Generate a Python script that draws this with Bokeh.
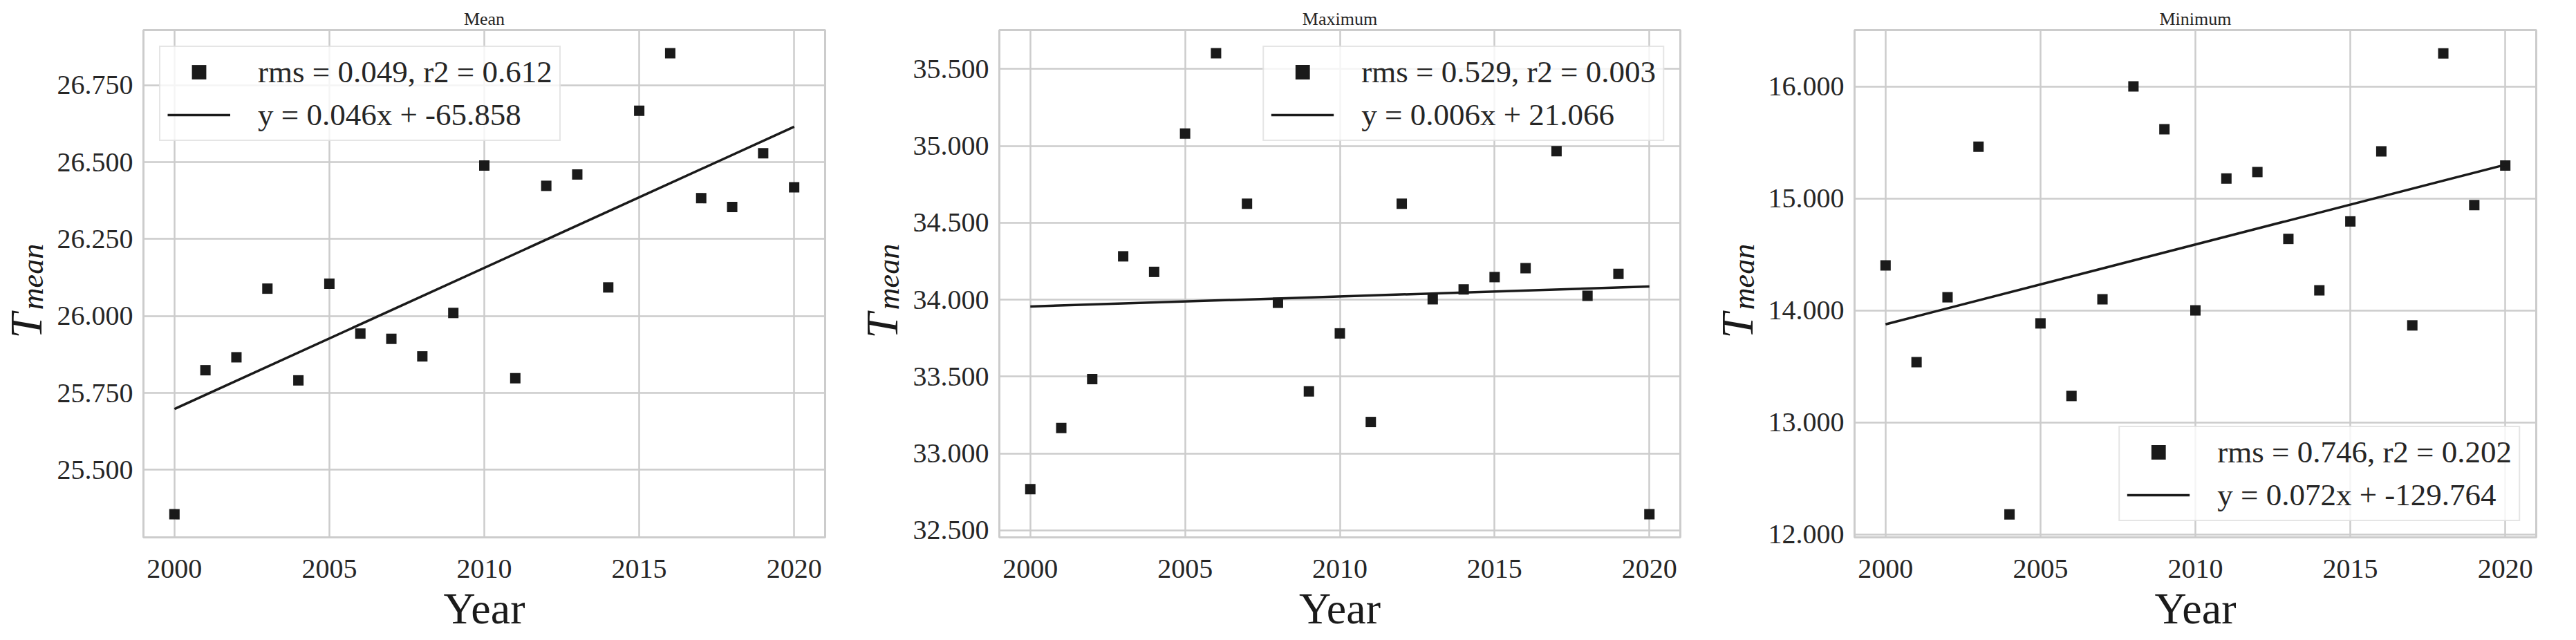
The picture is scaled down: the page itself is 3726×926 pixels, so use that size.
import math
from bokeh.plotting import figure
from bokeh.layouts import row
from bokeh.models import Range1d, PrintfTickFormatter
from bokeh.core.properties import value
from bokeh.embed import file_html
from bokeh.resources import INLINE

years = list(range(2000, 2021))

mean_vals = [25.356, 25.824, 25.866, 26.089, 25.791, 26.105, 25.943, 25.926, 25.869, 26.010,
             26.489, 25.798, 26.423, 26.460, 26.093, 26.667, 26.854, 26.383, 26.354, 26.529, 26.418]
max_vals = [32.768, 33.166, 33.484, 34.282, 34.181, 35.080, 35.602, 34.624, 33.980, 33.404,
            33.781, 33.205, 34.624, 34.003, 34.067, 34.147, 34.205, 34.966, 34.025, 34.168, 32.606]
min_vals = [14.402, 13.539, 14.118, 15.462, 12.180, 13.885, 13.237, 14.100, 16.000, 15.618,
            14.001, 15.178, 15.236, 14.639, 14.180, 14.795, 15.421, 13.867, 16.295, 14.941, 15.294]

fit_x = [2000, 2020]
mean_fit = [25.698, 26.615]
max_fit = [33.956, 34.086]
min_fit = [13.877, 15.301]

titles = ["Mean", "Maximum", "Minimum"]
stat_labels = ["rms = 0.049, r2 = 0.612", "rms = 0.529, r2 = 0.003", "rms = 0.746, r2 = 0.202"]
fit_labels = ["y = 0.046x + -65.858", "y = 0.006x + 21.066", "y = 0.072x + -129.764"]
ylabel_main = "T"
ylabel_sub = "mean"
xlabel = "Year"

x_ticks = [2000, 2005, 2010, 2015, 2020]
mean_ticks = [25.5, 25.75, 26.0, 26.25, 26.5, 26.75]
max_ticks = [32.5, 33.0, 33.5, 34.0, 34.5, 35.0, 35.5]
min_ticks = [12.0, 13.0, 14.0, 15.0, 16.0]

series = [mean_vals, max_vals, min_vals]
fits = [mean_fit, max_fit, min_fit]
yticks = [mean_ticks, max_ticks, min_ticks]
yranges = [(25.281, 26.929), (32.455, 35.753), (11.975, 16.503)]
legend_locs = ["top_left", "top_right", "bottom_right"]
frame_widths = [986, 985, 986]
right_borders = [45, 45, 10]

FONT = "Liberation Serif"
TXT = "#262626"
GRID = "#cccccc"
INK = "#1a1a1a"
FIG_H = 902
LAB_W = 74


def make_label_fig():
    q = figure(output_backend="svg", toolbar_location=None, title=None,
               frame_width=LAB_W, frame_height=FIG_H, min_border=0,
               x_axis_location=None, y_axis_location=None,
               x_range=Range1d(0, LAB_W), y_range=Range1d(0, FIG_H),
               background_fill_color="white", border_fill_color="white")
    q.outline_line_color = None
    q.grid.visible = False
    # positions in this strip's own pixel space (text centres)
    q.text(x=[36.5], y=[474], text=[ylabel_main], angle=math.pi / 2,
           text_font=value(FONT), text_font_style="italic", text_font_size="66px",
           text_color=INK, text_align="center", text_baseline="middle")
    q.text(x=[47], y=[545], text=[ylabel_sub], angle=math.pi / 2,
           text_font=value(FONT), text_font_style="italic", text_font_size="44px",
           text_color=INK, text_align="center", text_baseline="middle")
    return q


def make_panel(i):
    y0, y1 = yranges[i]
    p = figure(output_backend="svg", toolbar_location=None,
               frame_width=frame_widths[i], frame_height=734,
               min_border_left=133, min_border_right=right_borders[i],
               min_border_top=43, min_border_bottom=125,
               x_range=Range1d(1999, 2021), y_range=Range1d(y0, y1),
               background_fill_color="white", border_fill_color="white")
    p.outline_line_color = GRID
    p.outline_line_width = 3

    p.title.text = titles[i]
    p.title.align = "center"
    p.title.text_font = FONT
    p.title.text_font_size = "26px"
    p.title.text_font_style = "normal"
    p.title.text_color = TXT
    p.title.standoff = 4

    p.scatter(years, series[i], marker="square", size=15, fill_color=INK,
              line_color=None, legend_label=stat_labels[i])
    p.line(fit_x, fits[i], line_color=INK, line_width=3.5, legend_label=fit_labels[i])

    p.xaxis.ticker = x_ticks
    p.yaxis.ticker = yticks[i]
    p.yaxis.formatter = PrintfTickFormatter(format="%.3f")
    for ax in (p.xaxis, p.yaxis):
        ax.axis_line_color = None
        ax.major_tick_line_color = None
        ax.minor_tick_line_color = None
        ax.major_tick_out = 0
        ax.major_tick_in = 0
        ax.major_label_text_font = FONT
        ax.major_label_text_font_size = "40px"
        ax.major_label_text_color = TXT
    p.xaxis.major_label_standoff = 32
    p.yaxis.major_label_standoff = 15
    p.xaxis.axis_label = xlabel
    p.xaxis.axis_label_text_font = FONT
    p.xaxis.axis_label_text_font_size = "64px"
    p.xaxis.axis_label_text_font_style = "normal"
    p.xaxis.axis_label_text_color = INK
    p.xaxis.axis_label_standoff = 6

    p.xgrid.grid_line_color = GRID
    p.ygrid.grid_line_color = GRID
    p.xgrid.grid_line_width = 2.5
    p.ygrid.grid_line_width = 2.5

    lg = p.legend[0]
    lg.location = legend_locs[i]
    lg.margin = 23
    lg.padding = 10
    lg.spacing = 10
    lg.label_height = 52
    lg.glyph_height = 52
    lg.glyph_width = 91
    lg.label_standoff = 40
    lg.label_text_font = FONT
    lg.label_text_font_size = "45px"
    lg.label_text_color = TXT
    lg.border_line_color = GRID
    lg.border_line_width = 2
    lg.background_fill_color = "white"
    lg.background_fill_alpha = 0.8
    return p


children = []
for i in range(3):
    children.append(make_label_fig())
    children.append(make_panel(i))
layout = row(*children, spacing=0)

open("out.html", "w").write(file_html(layout, INLINE))
